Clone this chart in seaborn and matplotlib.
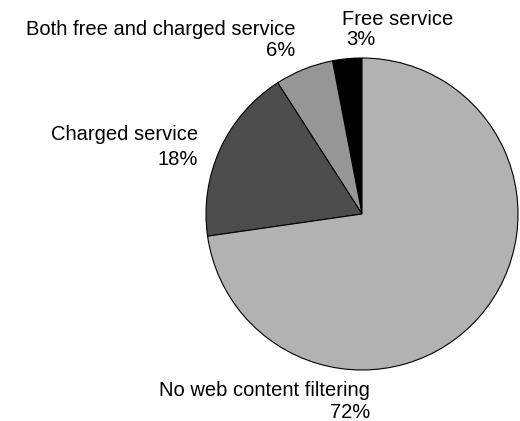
import matplotlib
matplotlib.use("Agg")
import matplotlib.pyplot as plt
import seaborn as sns

# Web content filtering offered by providers (share of respondents, %)
categories = ["Free service", "Both free and charged service",
              "Charged service", "No web content filtering"]
shares = [3, 6, 18, 72]
pct_labels = ["3%", "6%", "18%", "72%"]
slice_colors = ["#000000", "#969696", "#4D4D4D", "#B2B2B2"]

sns.set_style("white")
plt.rcParams["font.family"] = ["Liberation Sans", "DejaVu Sans"]

W, H = 520, 421
fig = plt.figure(figsize=(W / 100, H / 100), dpi=100)
ax = fig.add_axes([0, 0, 1, 1])

ax.pie(shares, colors=slice_colors, startangle=90, counterclock=True,
       center=(362, H - 214), radius=156, frame=True,
       wedgeprops=dict(edgecolor="black", linewidth=0.8))
ax.set_xlim(0, W)
ax.set_ylim(0, H)
ax.set_aspect("equal")
ax.axis("off")

# label placement: (x, baseline y from top, alignment) for name and percent lines
name_pos = [(342, 25, "left"), (295, 35, "right"), (198, 140, "right"), (370, 396.5, "right")]
pct_pos = [(346, 45, "left"), (295, 56.5, "right"), (198, 165, "right"), (370, 418, "right")]

fs = 14.5
for name, pct, (nx, ny, nha), (px, py, pha) in zip(categories, pct_labels, name_pos, pct_pos):
    ax.text(nx, H - ny, name, ha=nha, va="baseline", fontsize=fs, color="black")
    ax.text(px, H - py, pct, ha=pha, va="baseline", fontsize=fs, color="black")

fig.savefig("out.png", dpi=100, facecolor="white")
